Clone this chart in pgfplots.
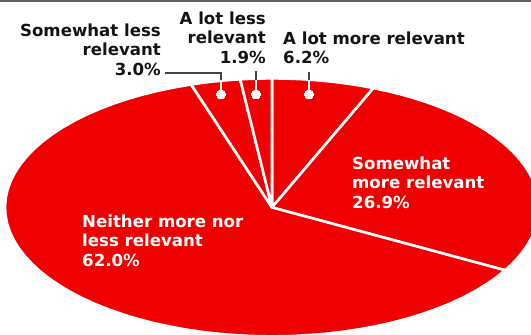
\documentclass[border=0pt]{standalone}
\usepackage{pgfplots}
\pgfplotsset{compat=1.18}
\usepackage{fontspec}
\setmainfont{DejaVu Sans}
\definecolor{pie}{RGB}{240,0,0}
\definecolor{lab}{RGB}{20,20,20}
\begin{document}
\begin{tikzpicture}
% shares (percent), clockwise from 12 o'clock
\def\pA{6.2}  % A lot more relevant
\def\pB{26.9} % Somewhat more relevant
\def\pC{62.0} % Neither more nor less relevant
\def\pD{3.0}  % Somewhat less relevant
\def\pE{1.9}  % A lot less relevant
\pgfmathsetmacro\sA{0}
\pgfmathsetmacro\sB{\sA+3.6*\pA}
\pgfmathsetmacro\sC{\sB+3.6*\pB}
\pgfmathsetmacro\sD{\sC+3.6*\pC}
\pgfmathsetmacro\sE{\sD+3.6*\pD}
\pgfmathsetmacro\sF{\sE+3.6*\pE}
\begin{axis}[
  scale only axis, width=531pt, height=335pt,
  xmin=0, xmax=531, ymin=0, ymax=335, y dir=reverse,
  hide axis, clip=true,
  every axis plot/.append style={fill=pie, draw=white, line width=2.6pt, line join=round, samples=60, variable=\t},
]
\addplot[domain=\sA:\sB] ({272+267*sin(t)},{208-129*cos(t)}) -- (axis cs:272,208) -- cycle;
\addplot[domain=\sB:\sC] ({272+267*sin(t)},{208-129*cos(t)}) -- (axis cs:272,208) -- cycle;
\addplot[domain=\sC:\sD] ({272+267*sin(t)},{208-129*cos(t)}) -- (axis cs:272,208) -- cycle;
\addplot[domain=\sD:\sE] ({272+267*sin(t)},{208-129*cos(t)}) -- (axis cs:272,208) -- cycle;
\addplot[domain=\sE:\sF] ({272+267*sin(t)},{208-129*cos(t)}) -- (axis cs:272,208) -- cycle;
% top rule
\draw[gray!80!black, line width=1.8pt] (axis cs:0,1.5) -- (axis cs:531,1.5);
% leader lines
\draw[lab!80, line width=1.3pt] (axis cs:165,73.5) -| (axis cs:221,80.5);
\draw[white, line width=1.3pt] (axis cs:221,80.5) -- (axis cs:221,95);
\draw[lab!80, line width=1.3pt] (axis cs:256,72) -- (axis cs:256,80.5);
\draw[white, line width=1.3pt] (axis cs:256,80.5) -- (axis cs:256,95);
\draw[lab!80, line width=1.3pt] (axis cs:309,73) -- (axis cs:309,80.5);
\draw[white, line width=1.3pt] (axis cs:309,80.5) -- (axis cs:309,95);
\addplot[only marks, mark=*, mark size=4.6pt, mark options={fill=white, draw=white, line width=0pt}, draw=none, fill=none] coordinates {(221,95) (256,95) (309,95)};
% labels
\tikzset{lbl/.style={font=\bfseries\fontsize{16.6}{19.5}\selectfont, inner sep=0pt}}
\node[lbl, anchor=north east, align=right, text=lab] at (axis cs:161,24) {Somewhat less\\relevant\\3.0\%};
\node[lbl, anchor=north east, align=right, text=lab] at (axis cs:266,12) {A lot less\\relevant\\1.9\%};
\node[lbl, anchor=north west, align=left, text=lab] at (axis cs:283,32) {A lot more relevant\\6.2\%};
\node[lbl, anchor=north west, align=left, text=white] at (axis cs:352,157) {Somewhat\\more relevant\\26.9\%};
\node[lbl, anchor=north west, align=left, text=white] at (axis cs:82,215) {Neither more nor\\less relevant\\62.0\%};
\end{axis}
\end{tikzpicture}
\end{document}
